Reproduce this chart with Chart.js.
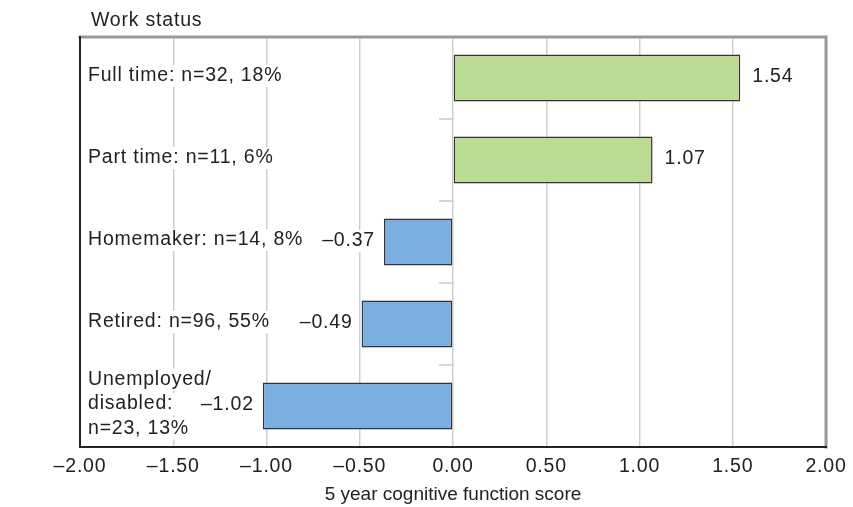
<!DOCTYPE html>
<html>
<head>
<meta charset="utf-8">
<script src="https://cdn.jsdelivr.net/npm/chart.js@4"></script>
<style>
  html, body { margin: 0; padding: 0; background: #fff; }
  #wrap { width: 853px; height: 507px; }
</style>
</head>
<body>
<div id="wrap"><canvas id="work-chart"></canvas></div>
<script>
// data
const categories = [
  ['Full time: n=32, 18%'],
  ['Part time: n=11, 6%'],
  ['Homemaker: n=14, 8%'],
  ['Retired: n=96, 55%'],
  ['Unemployed/', 'disabled:', 'n=23, 13%']
];
const scores = [1.54, 1.07, -0.37, -0.49, -1.02];
const xTicks = [-2, -1.5, -1, -0.5, 0, 0.5, 1, 1.5, 2];
const xTitle = '5 year cognitive function score';
const heading = 'Work status';

const GREEN = '#bcdc95';
const BLUE = '#7aafdf';
const TEXT = '#222';
const FONT = '"Liberation Sans", Arial, sans-serif';

function fmt(v) {
  const s = Math.abs(v).toFixed(2);
  return v < 0 ? '\u2013' + s : s;
}

function labelBox(ctx, text, x, y, align) {
  const w = ctx.measureText(text).width;
  const left = align === 'right' ? x - w : x;
  ctx.fillStyle = '#fff';
  ctx.fillRect(left - 2, y - 11, w + 4, 22);
  ctx.fillStyle = TEXT;
  ctx.textAlign = align;
  ctx.fillText(text, x, y);
}

// the figure's type is a little wider than Liberation Sans
const spacing = {
  id: 'spacing',
  beforeDraw(chart) { chart.ctx.letterSpacing = '0.8px'; }
};

// labels, borders, little category ticks at zero
const decor = {
  id: 'decor',
  afterDatasetsDraw(chart) {
    const ctx = chart.ctx;
    const area = chart.chartArea;
    const xs = chart.scales.x;
    const ys = chart.scales.y;
    ctx.save();
    ctx.font = '19.5px ' + FONT;
    ctx.textBaseline = 'middle';

    // category boundary ticks left of the zero line
    const x0 = xs.getPixelForValue(0);
    ctx.strokeStyle = '#c8c8c8';
    ctx.lineWidth = 1.5;
    for (let i = 0; i < categories.length - 1; i++) {
      const yb = (ys.getPixelForValue(i) + ys.getPixelForValue(i + 1)) / 2;
      ctx.beginPath();
      ctx.moveTo(x0 - 14, yb);
      ctx.lineTo(x0, yb);
      ctx.stroke();
    }

    // category labels inside plot
    categories.forEach((lines, i) => {
      const yc = ys.getPixelForValue(i) - 2;
      const lh = 24.5;
      lines.forEach((t, j) => {
        const y = yc + (j - (lines.length - 1) / 2) * lh;
        labelBox(ctx, t, area.left + 8, y, 'left');
      });
    });

    // value labels
    scores.forEach((v, i) => {
      const yc = ys.getPixelForValue(i) - 1;
      const xe = xs.getPixelForValue(v);
      if (v >= 0) labelBox(ctx, fmt(v), xe + 12, yc, 'left');
      else labelBox(ctx, fmt(v), xe - 9, yc, 'right');
    });

    // frame
    ctx.lineCap = 'square';
    ctx.strokeStyle = '#999';
    ctx.lineWidth = 3;
    ctx.beginPath();
    ctx.moveTo(area.left, area.top);
    ctx.lineTo(area.right, area.top);
    ctx.lineTo(area.right, area.bottom);
    ctx.stroke();
    ctx.strokeStyle = '#222';
    ctx.lineWidth = 2;
    ctx.beginPath();
    ctx.moveTo(area.left, area.top);
    ctx.lineTo(area.left, area.bottom);
    ctx.lineTo(area.right, area.bottom);
    ctx.stroke();

    // heading and axis title
    ctx.fillStyle = TEXT;
    ctx.textAlign = 'left';
    ctx.fillText(heading, area.left + 11, 21);
    ctx.letterSpacing = '0px';
    ctx.font = '19px ' + FONT;
    ctx.textAlign = 'center';
    ctx.fillText(xTitle, (area.left + area.right) / 2, 495);
    ctx.restore();
  }
};

const workChart = new Chart(document.querySelector('#work-chart').getContext('2d'), {
  type: 'bar',
  data: {
    labels: categories.map(c => c.join(' ')),
    datasets: [{
      data: scores,
      backgroundColor: scores.map(v => v >= 0 ? GREEN : BLUE),
      borderColor: '#333',
      borderWidth: 1.5,
      borderSkipped: false,
      categoryPercentage: 1,
      barPercentage: 0.575
    }]
  },
  options: {
    indexAxis: 'y',
    responsive: true,
    maintainAspectRatio: false,
    animation: false,
    layout: { padding: { left: 80, right: 25, top: 37, bottom: 0 } },
    plugins: { legend: { display: false }, tooltip: { enabled: false } },
    scales: {
      x: {
        min: -2,
        max: 2,
        afterBuildTicks: axis => { axis.ticks = xTicks.map(v => ({ value: v })); },
        afterFit: axis => { axis.height = 60; },
        grid: { color: '#cfcfcf', lineWidth: 1.5, drawTicks: false },
        border: { display: false },
        ticks: {
          padding: 8,
          color: TEXT,
          font: { family: FONT, size: 19.5 },
          callback: v => fmt(v)
        }
      },
      y: {
        display: false
      }
    }
  },
  plugins: [spacing, decor]
});
</script>
</body>
</html>
